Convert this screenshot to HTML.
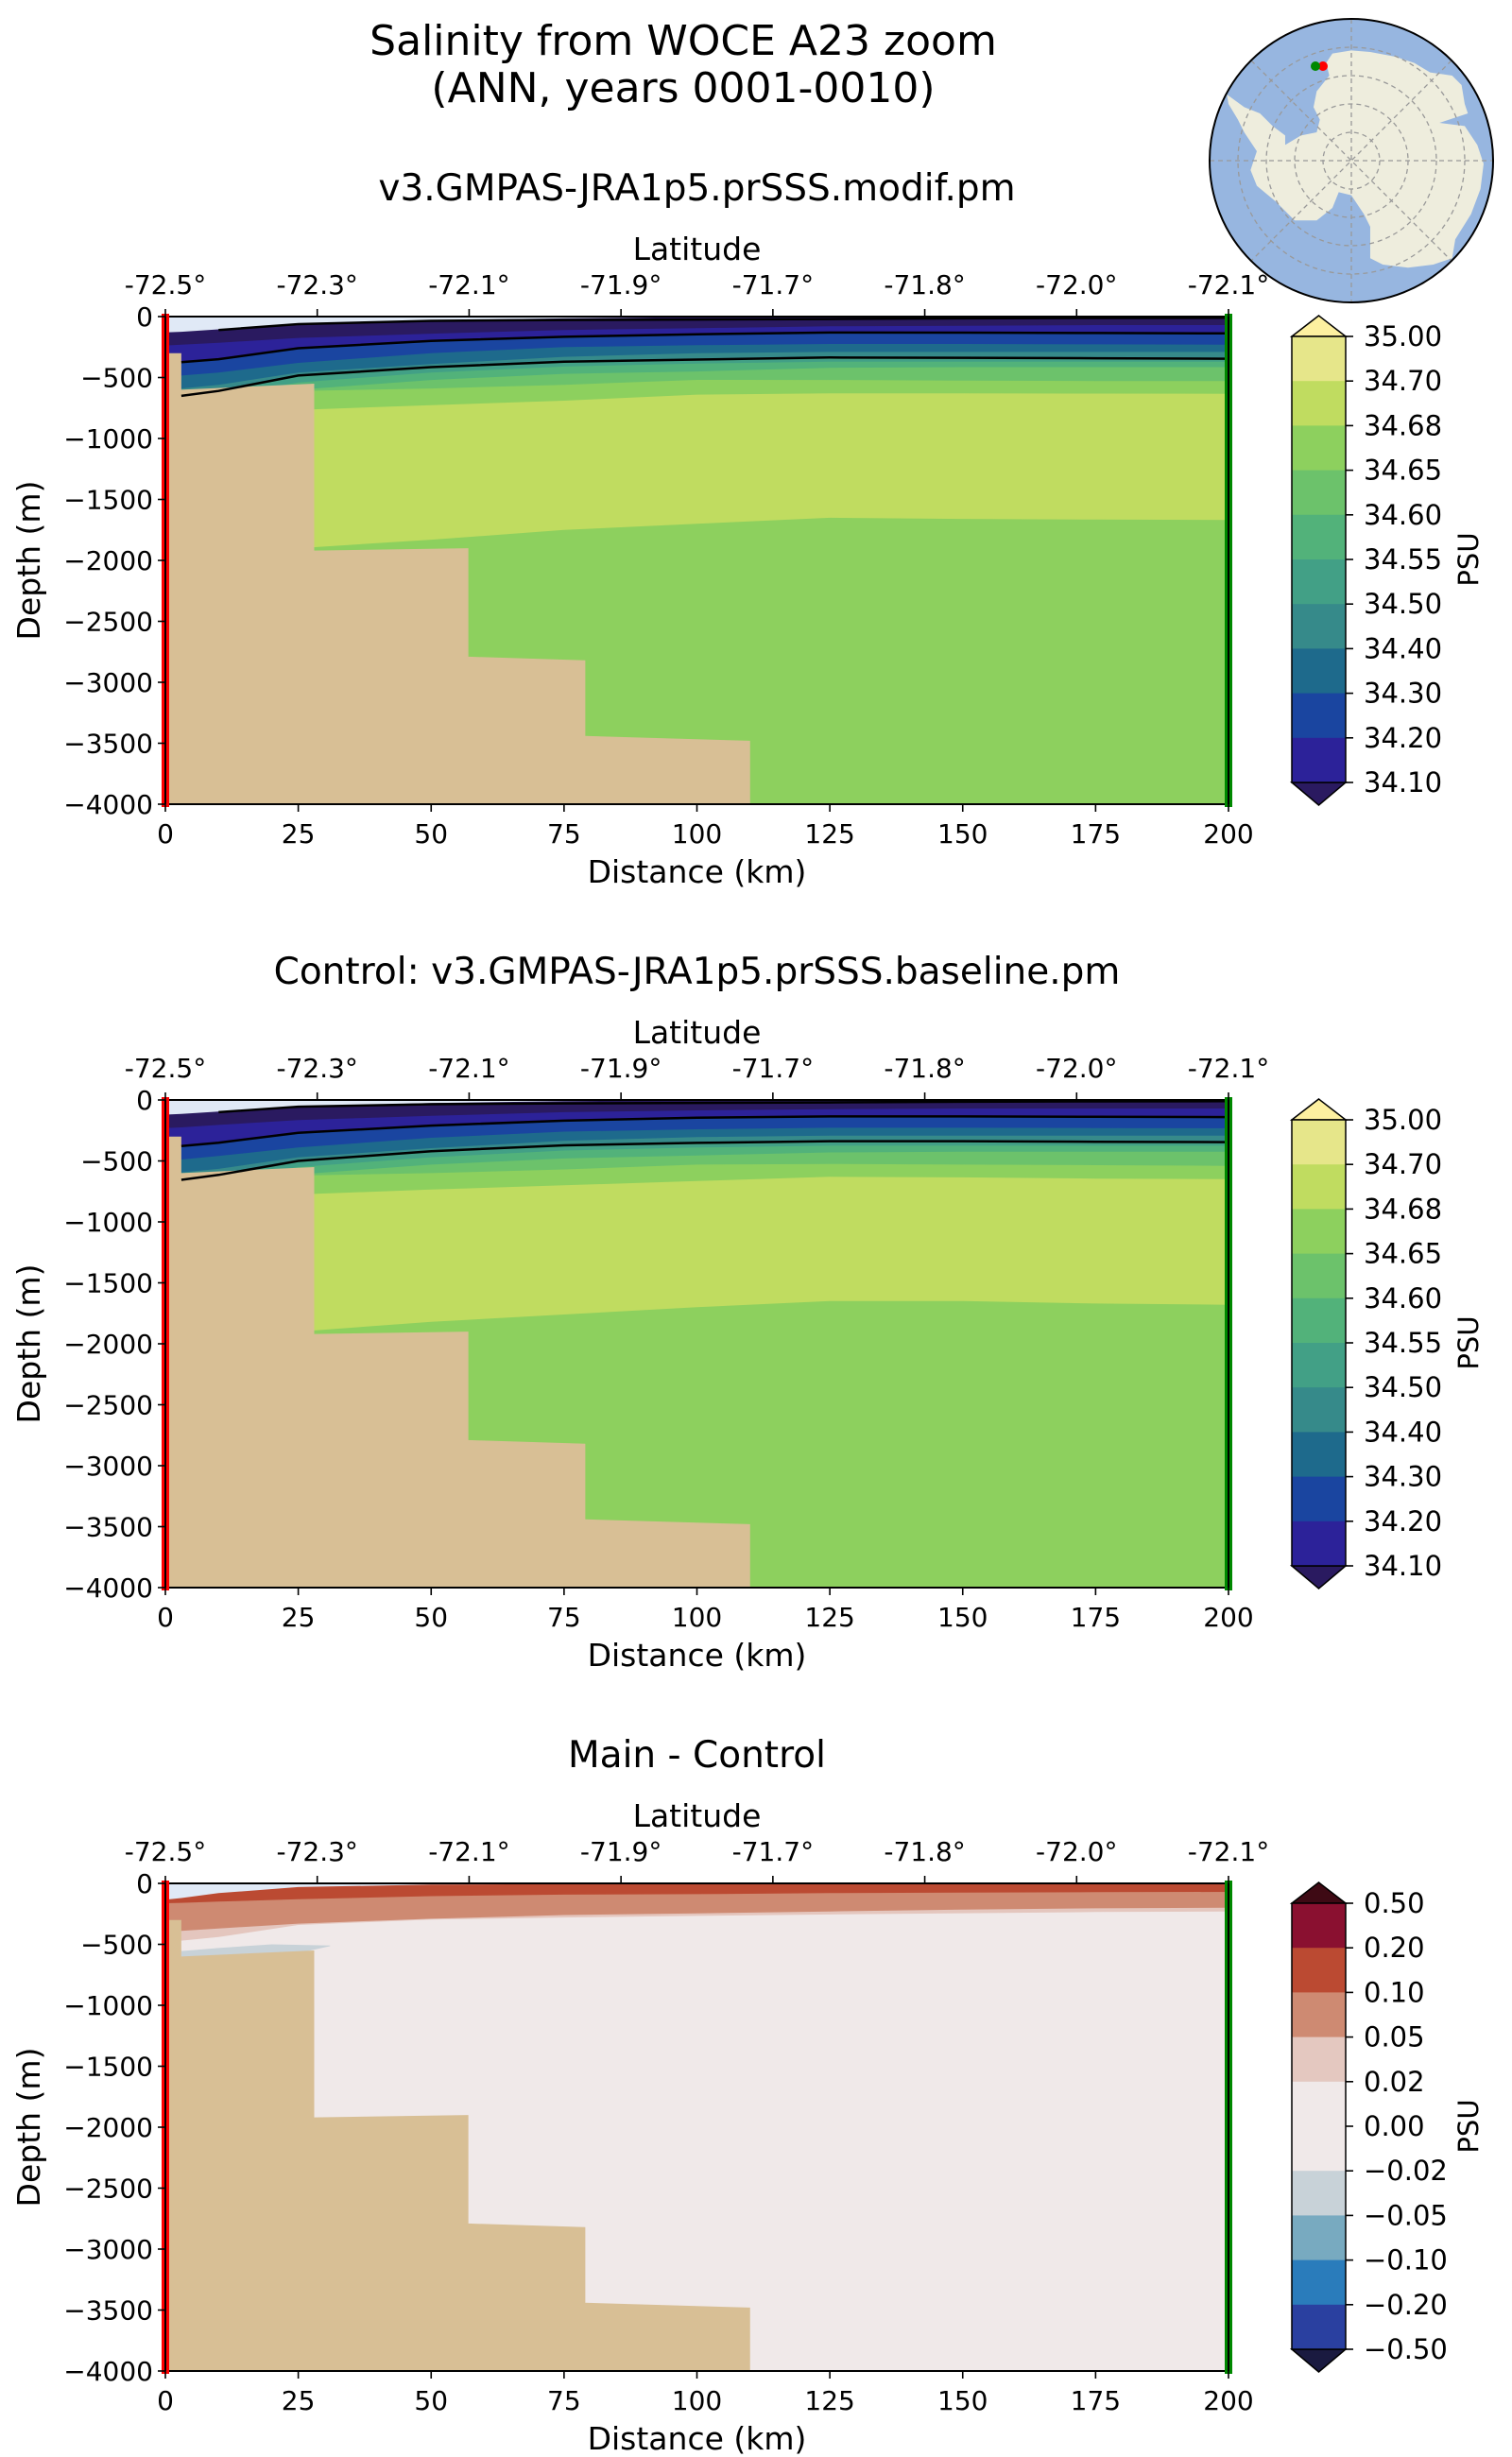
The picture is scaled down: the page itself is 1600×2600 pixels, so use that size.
<!DOCTYPE html>
<html><head><meta charset="utf-8">
<style>
html,body{margin:0;padding:0;background:#fff;}
svg{display:block;font-family:"DejaVu Sans","Liberation Sans",sans-serif;}
</style></head>
<body>
<svg id="fig" width="1600" height="2600" viewBox="0 0 1600 2600" xmlns="http://www.w3.org/2000/svg">
<rect width="1600" height="2600" fill="#fff"/>
<text x="723" y="58" font-size="44" text-anchor="middle">Salinity from WOCE A23 zoom</text>
<text x="723" y="108" font-size="44" text-anchor="middle">(ANN, years 0001-0010)</text>
<g id="map">
  <circle cx="1430" cy="170" r="150" fill="#97b6e0"/>
  <g transform="translate(1250,0) scale(0.3333)">
    <path fill="#eeeddd" d="M145,300 L200,340 L250,360 L290,400 L330,430 L330,460 L380,430 L430,420 L440,380 L420,340 L430,290 L470,240 L460,200 L480,170 L540,160 L600,165 L680,180 L740,200 L790,230 L860,240 L890,270 L900,330 L910,360 L820,390 L900,400 L940,460 L960,520 L950,600 L920,680 L870,760 L860,820 L800,840 L720,850 L640,840 L600,820 L600,720 L580,680 L540,620 L500,610 L480,660 L430,700 L360,700 L300,640 L240,590 L220,540 L240,480 L200,420 L180,380 L150,330 Z"/>
  </g>
  <g fill="none" stroke="#999" stroke-width="1.3" stroke-dasharray="5,4">
    <circle cx="1430" cy="170" r="30"/><circle cx="1430" cy="170" r="60"/><circle cx="1430" cy="170" r="90"/><circle cx="1430" cy="170" r="120"/>
    <line x1="1280" y1="170" x2="1580" y2="170"/><line x1="1430" y1="20" x2="1430" y2="320"/>
    <line x1="1324" y1="64" x2="1536" y2="276"/><line x1="1536" y1="64" x2="1324" y2="276"/>
  </g>
  <circle cx="1430" cy="170" r="150" fill="none" stroke="#000" stroke-width="2"/>
  <circle cx="1400" cy="70" r="5" fill="#f00"/>
  <circle cx="1392" cy="70" r="5" fill="#080"/>
</g>
</svg>
<script>
// ---------- data ----------
const distKm = [0, 3, 10, 25, 50, 75, 100, 125, 150, 175, 200];
const latTickLabels = ["-72.5°","-72.3°","-72.1°","-71.9°","-71.7°","-71.8°","-72.0°","-72.1°"];
const distTicks = [0,25,50,75,100,125,150,175,200];
const depthTicks = [0,500,1000,1500,2000,2500,3000,3500,4000];
// bathymetry steps
const bathyStartKm = [0, 3, 28, 57, 79, 110];
const bathyEndKm   = [3, 28, 57, 79, 110, 200];
const bathyDepthStart = [300, 600, 1920, 2790, 3440, 4000];
const bathyDepthEnd   = [300, 550, 1900, 2820, 3480, 4000];

// Main (modif) panel: contour boundary depths (m), filled downward with given color
const modifColors = ["#2a1a60","#2c2299","#1a45a0","#1e6a8c","#368a8a","#42a086","#52b27a","#6cc26b","#8dd05e","#c0dc60","#8dd05e"];
const modifB1  = [130,125,105,70,30,15,5,0,0,0,0];
const modifB2  = [237,230,215,175,140,110,95,80,75,70,70];
const modifB3  = [374,374,350,260,200,166,145,131,132,135,138];
const modifB4  = [484,484,460,380,300,250,235,225,225,228,230];
const modifB5  = [593,590,560,460,390,330,300,290,290,290,290];
const modifB6  = [656,650,610,484,415,370,353,336,338,342,346];
const modifB7  = [700,690,650,540,460,410,385,370,370,370,370];
const modifB8  = [720,700,680,600,520,470,450,420,415,415,415];
const modifB9  = [760,740,720,610,590,560,519,520,525,529,529];
const modifB10 = [900,880,850,765,727,690,640,630,630,632,633];
const modifB11 = [1900,1900,1900,1900,1830,1750,1700,1650,1660,1665,1668];
const modifLine1 = [null,null,110,62,35,28,24,20,15,12,10];
const modifLine2 = modifB3;
const modifLine3 = modifB6;

// Control (baseline) panel
const ctrlB1  = [120,115,95,55,25,10,3,0,0,0,0];
const ctrlB2  = [230,225,205,165,130,100,85,75,70,70,70];
const ctrlB3  = [380,378,350,270,210,170,145,135,135,138,140];
const ctrlB4  = [490,488,460,390,310,260,240,228,228,230,232];
const ctrlB5  = [600,595,565,470,395,335,305,292,292,292,292];
const ctrlB6  = [660,655,615,500,420,372,352,338,338,343,346];
const ctrlB7  = [700,690,655,550,470,415,390,375,375,375,375];
const ctrlB8  = [720,705,685,610,530,480,455,430,425,425,425];
const ctrlB9  = [760,745,725,620,600,570,530,525,530,535,540];
const ctrlB10 = [900,880,850,775,735,700,665,630,635,645,650];
const ctrlB11 = [1900,1900,1900,1900,1820,1760,1700,1650,1650,1670,1680];
const ctrlLine1 = [null,null,100,55,35,28,24,20,15,12,10];

// Difference panel
const diffColors = ["#bb4a32","#ce8a72","#e4c6be","#f0e9e9"];
const diffB1 = [134,120,80,30,10,6,5,3,2,2,2];
const diffB2 = [163,160,150,130,105,92,88,80,75,72,70];
const diffB3 = [395,390,370,330,290,260,246,230,215,205,200];
const diffB4 = [484,470,440,341,297,280,267,255,245,235,230];
const diffLensKm    = [3, 10, 20, 31];
const diffLensTop   = [555, 530, 500, 510];
const diffLensBot   = [697, 670, 620, 515];

const cbSalLabels = ["35.00","34.70","34.68","34.65","34.60","34.55","34.50","34.40","34.30","34.20","34.10"];
const cbSalColors = ["#e6e68a","#c0dc60","#8dd05e","#6cc26b","#52b27a","#42a086","#368a8a","#1e6a8c","#1a45a0","#2c2299"];
const cbSalExt = ["#fdf0a0","#2a1a60"];
const cbDiffLabels = ["0.50","0.20","0.10","0.05","0.02","0.00","\u22120.02","\u22120.05","\u22120.10","\u22120.20","\u22120.50"];
const cbDiffColors = ["#8a1030","#bb4a32","#ce8a72","#e4c8c0","#f0e9e9","#f0e9e9","#c8d2d8","#78aac0","#2a7cbb","#2a40a0"];
const cbDiffExt = ["#3e0a14","#1a1a40"];

// ---------- drawing ----------
const NS = "http://www.w3.org/2000/svg";
const svg = document.getElementById("fig");
const X0 = 175, X1 = 1300, PH = 516;
function xs(km){ return X0 + km * (X1 - X0) / 200; }
function mk(tag, attrs, parent){ const e = document.createElementNS(NS, tag); for (const k in attrs) e.setAttribute(k, attrs[k]); (parent||svg).appendChild(e); return e; }
function txt(str, attrs, parent){ const e = mk("text", attrs, parent); e.textContent = str; return e; }

function drawPanel(top, title, bounds, colors, lines, bgColor, extra){
  const ys = d => top + d * PH / 4000;
  const g = mk("g", {});
  
  
  const cid = "clip" + top;
  const cp = mk("clipPath", {id: cid}, g);
  mk("rect", {x: X0, y: top, width: X1 - X0, height: PH}, cp);
  const fg = mk("g", {"clip-path": "url(#" + cid + ")"}, g);
  const bg = mk("rect", {x: X0, y: top, width: X1 - X0, height: PH, fill: bgColor}, fg);
  
  
  bounds.forEach((b, i) => {
    let pts = distKm.map((k, j) => xs(k).toFixed(1) + "," + ys(b[j]).toFixed(1));
    pts.push(xs(200) + "," + ys(4000)); pts.push(xs(0) + "," + ys(4000));
    const p = mk("polygon", {points: pts.join(" "), fill: colors[i]}, fg);
    
    
  });
  if (extra) extra(fg, ys);
  let bp = [xs(0) + "," + ys(4000)];
  bathyStartKm.forEach((s, i) => {
    bp.push(xs(s) + "," + ys(bathyDepthStart[i]));
    bp.push(xs(bathyEndKm[i]) + "," + ys(bathyDepthEnd[i]));
  });
  bp.push(xs(200) + "," + ys(4000));
  const bath = mk("polygon", {points: bp.join(" "), fill: "#d8bf95"}, fg);
  
  
  lines.forEach(l => {
    const pts = [];
    distKm.forEach((k, j) => { if (l[j] !== null && k >= 3) pts.push(xs(k).toFixed(1) + "," + ys(l[j]).toFixed(1)); });
    const pl = mk("polyline", {points: pts.join(" "), fill: "none", stroke: "#000", "stroke-width": 2.5}, fg);
    
    
  });
  mk("rect", {x: X0, y: top, width: X1 - X0, height: PH, fill: "none", stroke: "#000", "stroke-width": 2}, g);
  const red = mk("rect", {x: X0 - 4, y: top - 3, width: 8, height: PH + 6, fill: "#f00"}, g);
  
  
  mk("line", {x1: X0, y1: top, x2: X0, y2: top + PH, stroke: "#000", "stroke-width": 2}, g);
  const grn = mk("rect", {x: X1 - 4, y: top - 3, width: 8, height: PH + 6, fill: "#080"}, g);
  
  
  mk("line", {x1: X1, y1: top, x2: X1, y2: top + PH, stroke: "#000", "stroke-width": 2}, g);
  depthTicks.forEach(d => {
    mk("line", {x1: X0 - 8, y1: ys(d), x2: X0, y2: ys(d), stroke: "#000", "stroke-width": 1.6}, g);
    const t = txt(d === 0 ? "0" : "\u2212" + d, {x: X0 - 13, y: ys(d) + 10, "font-size": 28, "text-anchor": "end"}, g);
    
    
  });
  distTicks.forEach(k => {
    mk("line", {x1: xs(k), y1: top + PH, x2: xs(k), y2: top + PH + 8, stroke: "#000", "stroke-width": 1.6}, g);
    const t = txt(String(k), {x: xs(k), y: top + PH + 41, "font-size": 28, "text-anchor": "middle"}, g);
    
    
  });
  latTickLabels.forEach((lab, i) => {
    const x = X0 + i * (X1 - X0) / 7;
    mk("line", {x1: x, y1: top - 8, x2: x, y2: top, stroke: "#000", "stroke-width": 1.6}, g);
    const t = txt(lab, {x: x, y: top - 24, "font-size": 28, "text-anchor": "middle"}, g);
    
    
  });
  const lt = txt("Latitude", {x: (X0 + X1) / 2, y: top - 60, "font-size": 33, "text-anchor": "middle"}, g);
  
  
  const xt = txt("Distance (km)", {x: (X0 + X1) / 2, y: top + PH + 83, "font-size": 33, "text-anchor": "middle"}, g);
  
  
  const yt = txt("Depth (m)", {x: 0, y: 0, "font-size": 33, "text-anchor": "middle", transform: "translate(42," + (top + PH / 2) + ") rotate(-90)"}, g);
  
  
  const pt = txt(title, {x: (X0 + X1) / 2, y: top - 123, "font-size": 39, "text-anchor": "middle"}, g);
  
  
}

function drawColorbar(top, labels, colors, ext){
  const g = mk("g", {});
  
  
  const cx0 = 1367, cx1 = 1424, by0 = top + 21, by1 = top + 493;
  const n = colors.length, h = (by1 - by0) / n;
  mk("polygon", {points: cx0 + "," + by0 + " " + (cx0 + cx1) / 2 + "," + (top - 1) + " " + cx1 + "," + by0, fill: ext[0], stroke: "#000", "stroke-width": 1.5}, g);
  mk("polygon", {points: cx0 + "," + by1 + " " + (cx0 + cx1) / 2 + "," + (top + 517) + " " + cx1 + "," + by1, fill: ext[1], stroke: "#000", "stroke-width": 1.5}, g);
  colors.forEach((c, i) => {
    const r = mk("rect", {x: cx0, y: by0 + i * h, width: cx1 - cx0, height: h + 0.5, fill: c}, g);
    
    
  });
  mk("rect", {x: cx0, y: by0, width: cx1 - cx0, height: by1 - by0, fill: "none", stroke: "#000", "stroke-width": 1.5}, g);
  labels.forEach((l, i) => {
    const y = by0 + i * (by1 - by0) / (labels.length - 1);
    mk("line", {x1: cx1, y1: y, x2: cx1 + 8, y2: y, stroke: "#000", "stroke-width": 1.6}, g);
    const t = txt(l, {x: 1443, y: y + 10, "font-size": 29}, g);
    
    
  });
  const u = txt("PSU", {x: 0, y: 0, "font-size": 29, "text-anchor": "middle", transform: "translate(1564," + (top + 257) + ") rotate(-90)"}, g);
  
  
}

drawPanel(335, "v3.GMPAS-JRA1p5.prSSS.modif.pm",
  [modifB1,modifB2,modifB3,modifB4,modifB5,modifB6,modifB7,modifB8,modifB9,modifB10,modifB11], modifColors,
  [modifLine1, modifLine2, modifLine3], "#e0e9f6");
drawColorbar(335, cbSalLabels, cbSalColors, cbSalExt);

drawPanel(1164, "Control: v3.GMPAS-JRA1p5.prSSS.baseline.pm",
  [ctrlB1,ctrlB2,ctrlB3,ctrlB4,ctrlB5,ctrlB6,ctrlB7,ctrlB8,ctrlB9,ctrlB10,ctrlB11], modifColors,
  [ctrlLine1, ctrlB3, ctrlB6], "#e0e9f6");
drawColorbar(1164, cbSalLabels, cbSalColors, cbSalExt);

drawPanel(1993, "Main - Control", [diffB1,diffB2,diffB3,diffB4], diffColors, [], "#e0e9f6", (fg, ys) => {
  const pts = diffLensKm.map((k, j) => xs(k) + "," + ys(diffLensTop[j]));
  for (let j = diffLensKm.length - 1; j >= 0; j--) pts.push(xs(diffLensKm[j]) + "," + ys(diffLensBot[j]));
  const p = mk("polygon", {points: pts.join(" "), fill: "#c8d2d8"}, fg);
  
  
});
drawColorbar(1993, cbDiffLabels, cbDiffColors, cbDiffExt);
</script>
</body></html>
